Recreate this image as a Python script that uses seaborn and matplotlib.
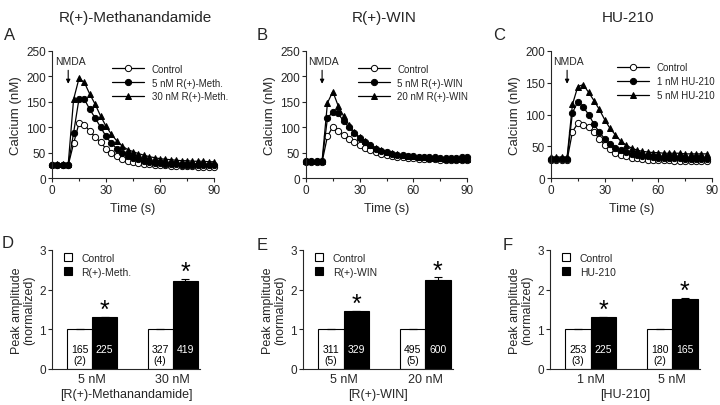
import numpy as np
import pandas as pd
import seaborn as sns
import matplotlib
matplotlib.use("Agg")
import matplotlib.pyplot as plt
from matplotlib.ticker import MultipleLocator

sns.set_theme(style="ticks")
plt.rcParams["font.family"] = ["Liberation Sans", "DejaVu Sans"]

# ---------------- data ----------------
time_ab = list(range(0, 91, 3))
time_c = list(range(0, 88, 3))

meth_ctrl = [25, 25, 25, 25, 68, 108, 105, 92, 81, 70, 58, 50, 43, 38, 34, 31, 29, 28, 27, 26, 25, 25, 24, 24, 23, 23, 23, 22, 22, 22, 22]
meth_5 = [25, 25, 25, 25, 89, 156, 155, 135, 118, 100, 82, 68, 58, 50, 44, 40, 37, 34, 32, 30, 29, 28, 27, 27, 26, 26, 26, 25, 25, 25, 25]
meth_30 = [27, 27, 27, 27, 155, 196, 188, 165, 145, 122, 102, 86, 73, 63, 56, 52, 48, 45, 42, 40, 38, 37, 36, 35, 34, 34, 33, 33, 33, 32, 32]

win_ctrl = [32, 32, 32, 32, 82, 101, 92, 84, 76, 70, 64, 59, 55, 51, 48, 46, 44, 42, 41, 40, 39, 38, 38, 37, 37, 36, 36, 36, 35, 35, 35]
win_5 = [33, 33, 33, 33, 118, 130, 127, 112, 100, 88, 78, 70, 64, 58, 54, 51, 48, 46, 45, 44, 43, 42, 42, 41, 41, 40, 40, 40, 40, 41, 42]
win_20 = [34, 34, 34, 34, 148, 170, 142, 122, 105, 90, 80, 72, 65, 60, 56, 52, 49, 47, 45, 44, 43, 42, 41, 40, 40, 39, 38, 38, 38, 38, 38]

hu_ctrl = [28, 28, 28, 28, 73, 86, 84, 80, 72, 62, 52, 45, 40, 37, 34, 32, 31, 30, 29, 29, 28, 28, 28, 27, 27, 27, 27, 27, 27, 27]
hu_1 = [30, 30, 30, 30, 103, 120, 112, 100, 85, 72, 62, 54, 48, 44, 41, 38, 36, 35, 34, 33, 32, 32, 31, 31, 31, 30, 30, 30, 30, 30]
hu_5 = [33, 33, 33, 33, 116, 144, 147, 135, 122, 108, 92, 78, 68, 58, 52, 47, 44, 42, 41, 40, 40, 39, 39, 39, 39, 38, 38, 38, 38, 38]

line_titles = ["R(+)-Methanandamide", "R(+)-WIN", "HU-210"]
line_labels = [
    ["Control", "5 nM R(+)-Meth.", "30 nM R(+)-Meth."],
    ["Control", "5 nM R(+)-WIN", "20 nM R(+)-WIN"],
    ["Control", "1 nM HU-210", "5 nM HU-210"],
]
line_ymax = [250, 250, 200]

bar_conc = [["5 nM", "30 nM"], ["5 nM", "20 nM"], ["1 nM", "5 nM"]]
bar_drug = ["R(+)-Meth.", "R(+)-WIN", "HU-210"]
bar_xlabel = ["[R(+)-Methanandamide]", "[R(+)-WIN]", "[HU-210]"]
bar_ctrl = [[1.0, 1.0], [1.0, 1.0], [1.0, 1.0]]
bar_treat = [[1.30, 2.23], [1.45, 2.25], [1.30, 1.76]]
bar_ctrl_err = [[0.01, 0.01], [0.01, 0.01], [0.01, 0.01]]
bar_treat_err = [[0.02, 0.04], [0.02, 0.06], [0.02, 0.04]]
ctrl_counts = [["165\n(2)", "327\n(4)"], ["311\n(5)", "495\n(5)"], ["253\n(3)", "180\n(2)"]]
treat_counts = [["225", "419"], ["329", "600"], ["225", "165"]]

line_sets = [
    (time_ab, [meth_ctrl, meth_5, meth_30]),
    (time_ab, [win_ctrl, win_5, win_20]),
    (time_c, [hu_ctrl, hu_1, hu_5]),
]

# ---------------- figure ----------------
W, H = 720, 406
fig = plt.figure(figsize=(7.2, 4.06), dpi=100)


def px_axes(left, top, right, bottom):
    return fig.add_axes([left / W, 1 - bottom / H, (right - left) / W, (bottom - top) / H])


top_boxes = [(52, 52, 214, 179), (306, 52, 467, 179), (551, 52, 712, 179)]
bot_boxes = [(52, 251, 200, 370), (303, 251, 453, 370), (550, 251, 700, 370)]
leg_anchor = [(0.37, 0.90), (0.32, 0.90), (0.41, 0.91)]

lw_axis = 0.8
marker_styles = [dict(marker="o", mfc="white", mec="black"),
                 dict(marker="o", mfc="black", mec="black"),
                 dict(marker="^", mfc="black", mec="black")]

for i, (box, (t, series)) in enumerate(zip(top_boxes, line_sets)):
    ax = px_axes(*box)
    for vals, lab, ms in zip(series, line_labels[i], marker_styles):
        sns.lineplot(x=t, y=vals, ax=ax, color="black", lw=0.9, ms=4.5,
                     mew=0.7, label=lab, clip_on=False, **ms)
    ax.set_xlim(0, 90)
    ax.set_ylim(0, line_ymax[i])
    ax.xaxis.set_major_locator(MultipleLocator(30))
    ax.xaxis.set_minor_locator(MultipleLocator(15))
    ax.yaxis.set_major_locator(MultipleLocator(50))
    sns.despine(ax=ax)
    for s in ("left", "bottom"):
        ax.spines[s].set_linewidth(lw_axis)
    ax.tick_params(which="major", length=3, width=lw_axis, labelsize=8.5, pad=1.5)
    ax.tick_params(which="minor", length=2, width=lw_axis)
    ax.set_xlabel("Time (s)", fontsize=9, labelpad=4)
    ax.set_ylabel("Calcium (nM)", fontsize=9.5, labelpad=3)
    ax.legend(loc="upper left", bbox_to_anchor=leg_anchor[i], frameon=False,
              fontsize=7, handlelength=3.3, handletextpad=0.8, labelspacing=0.4,
              borderpad=0, borderaxespad=0)
    tr = ax.get_xaxis_transform()
    ax.annotate("", xy=(9, 0.72), xytext=(9, 0.87), xycoords=tr, textcoords=tr,
                arrowprops=dict(arrowstyle="-|>", lw=0.8, color="black", mutation_scale=6))
    ax.text(10, 0.925, "NMDA", transform=tr, ha="center", va="center", fontsize=7.5)

for i, box in enumerate(bot_boxes):
    ax = px_axes(*box)
    df = pd.DataFrame({
        "conc": bar_conc[i] * 2,
        "group": ["Control"] * 2 + [bar_drug[i]] * 2,
        "value": bar_ctrl[i] + bar_treat[i],
    })
    sns.barplot(data=df, x="conc", y="value", hue="group", ax=ax,
                palette={"Control": "white", bar_drug[i]: "black"},
                edgecolor="black", linewidth=0.8, width=0.62, gap=0,
                errorbar=None, order=bar_conc[i], hue_order=["Control", bar_drug[i]])
    errs = [bar_ctrl_err[i], bar_treat_err[i]]
    texts = [ctrl_counts[i], treat_counts[i]]
    bar_containers = list(ax.containers)
    for k, cont in enumerate(bar_containers):
        for j, bar in enumerate(cont):
            x = bar.get_x() + bar.get_width() / 2
            h = bar.get_height()
            ax.errorbar(x, h, yerr=[[0], [errs[k][j]]], fmt="none", ecolor="black",
                        elinewidth=0.8, capsize=3, capthick=0.8)
            lines = texts[k][j].split("\n")
            col = "black" if k == 0 else "white"
            ax.text(x, 0.5, lines[0], ha="center", va="center", fontsize=7.5, color=col)
            if len(lines) > 1:
                ax.text(x, 0.23, lines[1], ha="center", va="center", fontsize=7.5, color=col)
            if k == 1:
                ax.text(x, h + errs[k][j] + 0.0, "*", ha="center", va="baseline",
                        fontsize=18, color="black")
    ax.set_ylim(0, 3)
    ax.set_xlim(-0.50, 1.34)
    ax.yaxis.set_major_locator(MultipleLocator(1))
    sns.despine(ax=ax)
    for s in ("left", "bottom"):
        ax.spines[s].set_linewidth(lw_axis)
    ax.tick_params(axis="y", length=3, width=lw_axis, labelsize=8.5, pad=1.5)
    ax.tick_params(axis="x", length=0, labelsize=9, pad=3)
    ax.set_xlabel(bar_xlabel[i], fontsize=9, labelpad=2)
    ax.set_ylabel("Peak amplitude\n(normalized)", fontsize=9, labelpad=3, linespacing=1.0)
    ax.legend(loc="upper left", bbox_to_anchor=(0.08, 0.975), frameon=False,
              fontsize=7.5, handlelength=0.8, handleheight=0.8, handletextpad=0.9,
              labelspacing=0.35, borderpad=0, borderaxespad=0)

# titles and panel letters
for x, txt in zip([135, 384, 628], line_titles):
    fig.text(x / W, 1 - 22 / H, txt, ha="center", va="baseline", fontsize=11)
for (x, y), letter in zip([(4, 40), (257, 40), (493, 40), (2, 248), (257, 250), (503, 250)],
                          "ABCDEF"):
    fig.text(x / W, 1 - y / H, letter, ha="left", va="baseline", fontsize=12)

fig.savefig("out.png", dpi=100)
